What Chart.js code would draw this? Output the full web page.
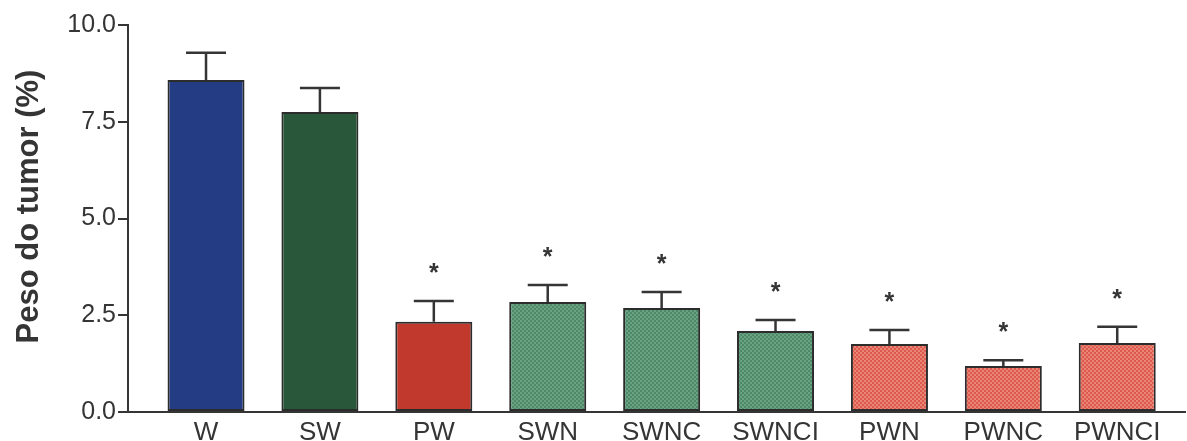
<!DOCTYPE html>
<html>
<head>
<meta charset="utf-8">
<title>Peso do tumor</title>
<script src="https://cdn.jsdelivr.net/npm/chart.js@4/dist/chart.umd.min.js"></script>
<style>
  html, body { margin: 0; padding: 0; background: #ffffff; }
  #wrap { width: 1187px; height: 441px; }
</style>
</head>
<body>
<div id="wrap"><canvas id="chart" width="1187" height="441"></canvas></div>
<script>
// Groups and tumour weight (% of body weight): mean and SEM
const categories = ['W', 'SW', 'PW', 'SWN', 'SWNC', 'SWNCI', 'PWN', 'PWNC', 'PWNCI'];
const means = [8.58, 7.75, 2.33, 2.84, 2.69, 2.09, 1.76, 1.19, 1.78];
const sem = [0.70, 0.62, 0.54, 0.44, 0.41, 0.29, 0.36, 0.15, 0.42];
const significance = ['', '', '*', '*', '*', '*', '*', '*', '*'];
const yTicks = [0, 2.5, 5, 7.5, 10];

const INK = '#353535';
const FONT = '"Liberation Sans", Arial, sans-serif';

// Fine dotted texture used for the supplemented groups
function texture(base, light) {
  const c = document.createElement('canvas');
  c.width = 4; c.height = 4;
  const g = c.getContext('2d');
  g.fillStyle = base; g.fillRect(0, 0, 4, 4);
  g.fillStyle = light;
  g.fillRect(0, 0, 2, 2);
  g.fillRect(2, 2, 2, 2);
  return g.createPattern(c, 'repeat');
}

const fills = [
  '#233c84',
  '#29573a',
  '#c1392c',
  texture('#4c8a67', '#6aa283'),
  texture('#4c8a67', '#6aa283'),
  texture('#4c8a67', '#6aa283'),
  texture('#dc5a4c', '#ea8476'),
  texture('#dc5a4c', '#ea8476'),
  texture('#dc5a4c', '#ea8476')
];

// SEM whiskers and significance marks above each bar
const errorBars = {
  id: 'errorBars',
  afterDatasetsDraw(chart) {
    const { ctx, scales: { x, y } } = chart;
    ctx.save();
    ctx.strokeStyle = INK;
    ctx.fillStyle = INK;
    ctx.lineWidth = 2.5;
    means.forEach((m, i) => {
      const cx = x.getPixelForValue(i);
      const yTop = y.getPixelForValue(m);
      const yErr = y.getPixelForValue(m + sem[i]);
      ctx.beginPath();
      ctx.moveTo(cx, yTop);
      ctx.lineTo(cx, yErr);
      ctx.moveTo(cx - 20, yErr);
      ctx.lineTo(cx + 20, yErr);
      ctx.stroke();
      if (significance[i]) {
        ctx.font = 'bold 25px ' + FONT;
        ctx.textAlign = 'center';
        ctx.textBaseline = 'alphabetic';
        ctx.fillText(significance[i], cx, yErr - 20);
      }
    });
    ctx.restore();
  }
};

// Rotated y-axis title
const yTitle = {
  id: 'yTitle',
  afterDraw(chart) {
    const { ctx, chartArea } = chart;
    ctx.save();
    ctx.translate(29, (chartArea.top + chartArea.bottom) / 2 - 12);
    ctx.rotate(-Math.PI / 2);
    ctx.font = 'bold 31px ' + FONT;
    ctx.fillStyle = INK;
    ctx.textAlign = 'center';
    ctx.textBaseline = 'middle';
    ctx.fillText('Peso do tumor (%)', 0, 0);
    ctx.restore();
  }
};

new Chart(document.getElementById('chart'), {
  type: 'bar',
  data: {
    datasets: [{
      data: means.map((v, i) => ({ x: i, y: v })),
      backgroundColor: fills,
      borderColor: '#2c2c2c',
      borderWidth: 2,
      borderSkipped: false,
      barPercentage: 0.676,
      categoryPercentage: 1
    }]
  },
  options: {
    responsive: false,
    animation: false,
    layout: { padding: { top: 25, right: 2, left: 0, bottom: 0 } },
    plugins: { legend: { display: false }, tooltip: { enabled: false } },
    scales: {
      x: {
        type: 'linear',
        min: -0.685,
        max: 8.595,
        offset: false,
        afterFit(s) { s.height = 29; },
        afterBuildTicks(s) { s.ticks = categories.map((_, i) => ({ value: i })); },
        grid: { drawOnChartArea: false, drawTicks: false },
        border: { display: true, color: INK, width: 2 },
        ticks: {
          autoSkip: false,
          maxRotation: 0,
          padding: 5,
          color: INK,
          font: { family: FONT, size: 26 },
          callback: (v) => categories[v]
        }
      },
      y: {
        min: 0,
        max: 10,
        afterFit(s) { s.width = 128; },
        afterBuildTicks(s) { s.ticks = yTicks.map(v => ({ value: v })); },
        grid: { drawOnChartArea: false, drawTicks: true, tickLength: 10, color: INK, lineWidth: 2 },
        border: { display: true, color: INK, width: 2 },
        ticks: {
          padding: 2,
          color: INK,
          font: { family: FONT, size: 25 },
          callback: (v) => v.toFixed(1)
        }
      }
    }
  },
  plugins: [errorBars, yTitle]
});
</script>
</body>
</html>
